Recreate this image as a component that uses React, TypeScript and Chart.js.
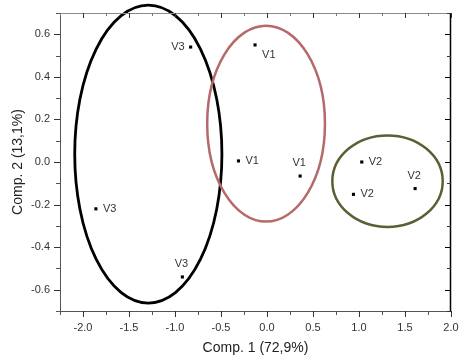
import React, { useEffect, useRef } from "react";
import { Chart, registerables } from "chart.js";

Chart.register(...registerables);

// ---- data ----
const pointLabels = ["V3", "V1", "V1", "V1", "V2", "V2", "V2", "V3", "V3"];
const comp1Values = [-0.83, -0.13, -0.31, 0.36, 1.03, 1.61, 0.94, -1.86, -0.92];
const comp2Values = [0.54, 0.55, 0.005, -0.066, 0.0, -0.125, -0.152, -0.22, -0.54];
const labelPlacement = ["left", "belowRight", "right", "above", "right", "above", "right", "right", "above"];

const xTickValues = [-2.0, -1.5, -1.0, -0.5, 0.0, 0.5, 1.0, 1.5, 2.0];
const yTickValues = [-0.6, -0.4, -0.2, 0.0, 0.2, 0.4, 0.6];
const xMinorValues = [-2.25, -1.75, -1.25, -0.75, -0.25, 0.25, 0.75, 1.25, 1.75];
const yMinorValues = [-0.7, -0.5, -0.3, -0.1, 0.1, 0.3, 0.5, 0.7];

// group ellipses: centre x, centre y, radius x, radius y (data units)
const ellipseCx = [-1.29, -0.01, 1.31];
const ellipseCy = [0.037, 0.18, -0.09];
const ellipseRx = [0.8, 0.64, 0.6];
const ellipseRy = [0.7, 0.46, 0.215];
const ellipseColors = ["#000000", "#b5696b", "#596034"];

const FONT = "'Liberation Sans', Arial, sans-serif";

const overlayPlugin = {
  id: "overlay",
  afterDatasetsDraw(chart: any) {
    const { ctx, scales } = chart;
    const xs = scales.x;
    const ys = scales.y;
    ctx.save();
    // ellipses
    for (let i = 0; i < ellipseCx.length; i++) {
      const cx = xs.getPixelForValue(ellipseCx[i]);
      const cy = ys.getPixelForValue(ellipseCy[i]);
      const rx = Math.abs(xs.getPixelForValue(ellipseCx[i] + ellipseRx[i]) - cx);
      const ry = Math.abs(ys.getPixelForValue(ellipseCy[i] + ellipseRy[i]) - cy);
      ctx.beginPath();
      ctx.ellipse(cx, cy, rx, ry, 0, 0, Math.PI * 2);
      ctx.strokeStyle = ellipseColors[i];
      ctx.lineWidth = i === 0 ? 2.8 : 2.5;
      ctx.stroke();
    }
    // point labels
    ctx.font = `11px ${FONT}`;
    ctx.fillStyle = "#333333";
    for (let i = 0; i < pointLabels.length; i++) {
      const px = xs.getPixelForValue(comp1Values[i]);
      const py = ys.getPixelForValue(comp2Values[i]);
      const p = labelPlacement[i];
      let tx = px, ty = py;
      if (p === "left") { ctx.textAlign = "right"; ctx.textBaseline = "middle"; tx = px - 6; }
      else if (p === "right") { ctx.textAlign = "left"; ctx.textBaseline = "middle"; tx = px + 7; }
      else if (p === "above") { ctx.textAlign = "center"; ctx.textBaseline = "middle"; tx = px - 1; ty = py - 13; }
      else { ctx.textAlign = "left"; ctx.textBaseline = "middle"; tx = px + 7; ty = py + 10; }
      ctx.fillText(pointLabels[i], tx, ty);
    }
    ctx.restore();
  },
  afterDraw(chart: any) {
    const { ctx, chartArea, scales } = chart;
    const xs = scales.x;
    const ys = scales.y;
    const { left, right, top, bottom } = chartArea;
    ctx.save();
    ctx.lineWidth = 1;
    const line = (x1: number, y1: number, x2: number, y2: number, c: string, w = 1) => {
      ctx.beginPath();
      ctx.moveTo(x1, y1);
      ctx.lineTo(x2, y2);
      ctx.strokeStyle = c;
      ctx.lineWidth = w;
      ctx.stroke();
    };
    // frame
    line(left, top + 0.5, right, top + 0.5, "#8a8a8a");
    line(right - 0.5, top, right - 0.5, bottom + 1, "#000000", 1.5);
    line(left, bottom + 0.5, right, bottom + 0.5, "#555555");
    line(left + 0.5, top, left + 0.5, bottom + 1, "#555555");
    // x ticks (bottom outward, top inward)
    for (const v of xTickValues) {
      const x = Math.round(xs.getPixelForValue(v)) + 0.5;
      line(x, bottom, x, bottom + 6, "#333333");
      line(x, top, x, top + 5, "#333333");
    }
    for (const v of xMinorValues) {
      const x = Math.round(xs.getPixelForValue(v)) + 0.5;
      line(x, bottom, x, bottom + 4, "#555555");
      line(x, top, x, top + 3, "#777777");
    }
    // y ticks (left outward, right inward)
    for (const v of yTickValues) {
      const y = Math.round(ys.getPixelForValue(v)) + 0.5;
      line(left - 6, y, left, y, "#333333");
      line(right - 6, y, right, y, "#000000");
    }
    for (const v of yMinorValues) {
      const y = Math.round(ys.getPixelForValue(v)) + 0.5;
      line(left - 4, y, left, y, "#555555");
      line(right - 4, y, right, y, "#333333");
    }
    ctx.restore();
  },
};

export default function App() {
  const canvasRef = useRef<HTMLCanvasElement | null>(null);

  useEffect(() => {
    document.body.style.margin = "0";
    const canvas = canvasRef.current;
    if (!canvas) return;
    const data = comp1Values.map((x, i) => ({ x, y: comp2Values[i] }));
    const chart = new Chart(canvas, {
      type: "scatter",
      data: {
        datasets: [
          {
            data,
            pointStyle: "rect",
            pointRadius: 2.2,
            pointBorderWidth: 0,
            pointBackgroundColor: "#000000",
            pointHoverRadius: 2.2,
          },
        ],
      },
      options: {
        animation: false,
        responsive: false,
        devicePixelRatio: 1,
        layout: { padding: { top: 13, right: 15, left: 0, bottom: 0 } },
        plugins: { legend: { display: false }, tooltip: { enabled: false } },
        scales: {
          x: {
            type: "linear",
            min: -2.25,
            max: 2.0,
            afterBuildTicks: (scale: any) => {
              scale.ticks = xTickValues.map((v) => ({ value: v }));
            },
            afterFit: (scale: any) => {
              scale.height = 50;
              scale.paddingLeft = 0;
              scale.paddingRight = 0;
            },
            grid: { display: false, drawTicks: false },
            border: { display: false },
            ticks: {
              padding: 10,
              color: "#333333",
              font: { family: FONT, size: 11 },
              callback: (v: any) => Number(v).toFixed(1),
            },
            title: {
              display: true,
              text: "Comp. 1 (72,9%)",
              color: "#222222",
              font: { family: FONT, size: 14 },
              padding: { top: 0, bottom: 4 },
            },
          },
          y: {
            type: "linear",
            min: -0.7,
            max: 0.7,
            afterBuildTicks: (scale: any) => {
              scale.ticks = yTickValues.map((v) => ({ value: v }));
            },
            afterFit: (scale: any) => {
              scale.width = 60;
              scale.paddingTop = 0;
              scale.paddingBottom = 0;
            },
            grid: { display: false, drawTicks: false },
            border: { display: false },
            ticks: {
              padding: 10,
              color: "#333333",
              font: { family: FONT, size: 11 },
              callback: (v: any) => Number(v).toFixed(1),
            },
            title: {
              display: true,
              text: "Comp. 2 (13,1%)",
              color: "#222222",
              font: { family: FONT, size: 14 },
              padding: { top: 10, bottom: 0 },
            },
          },
        },
      },
      plugins: [overlayPlugin],
    });
    return () => chart.destroy();
  }, []);

  return (
    <div style={{ position: "absolute", left: 0, top: 0, width: 466, height: 361, background: "#ffffff" }}>
      <canvas ref={canvasRef} width={466} height={361} style={{ width: 466, height: 361 }} />
    </div>
  );
}
